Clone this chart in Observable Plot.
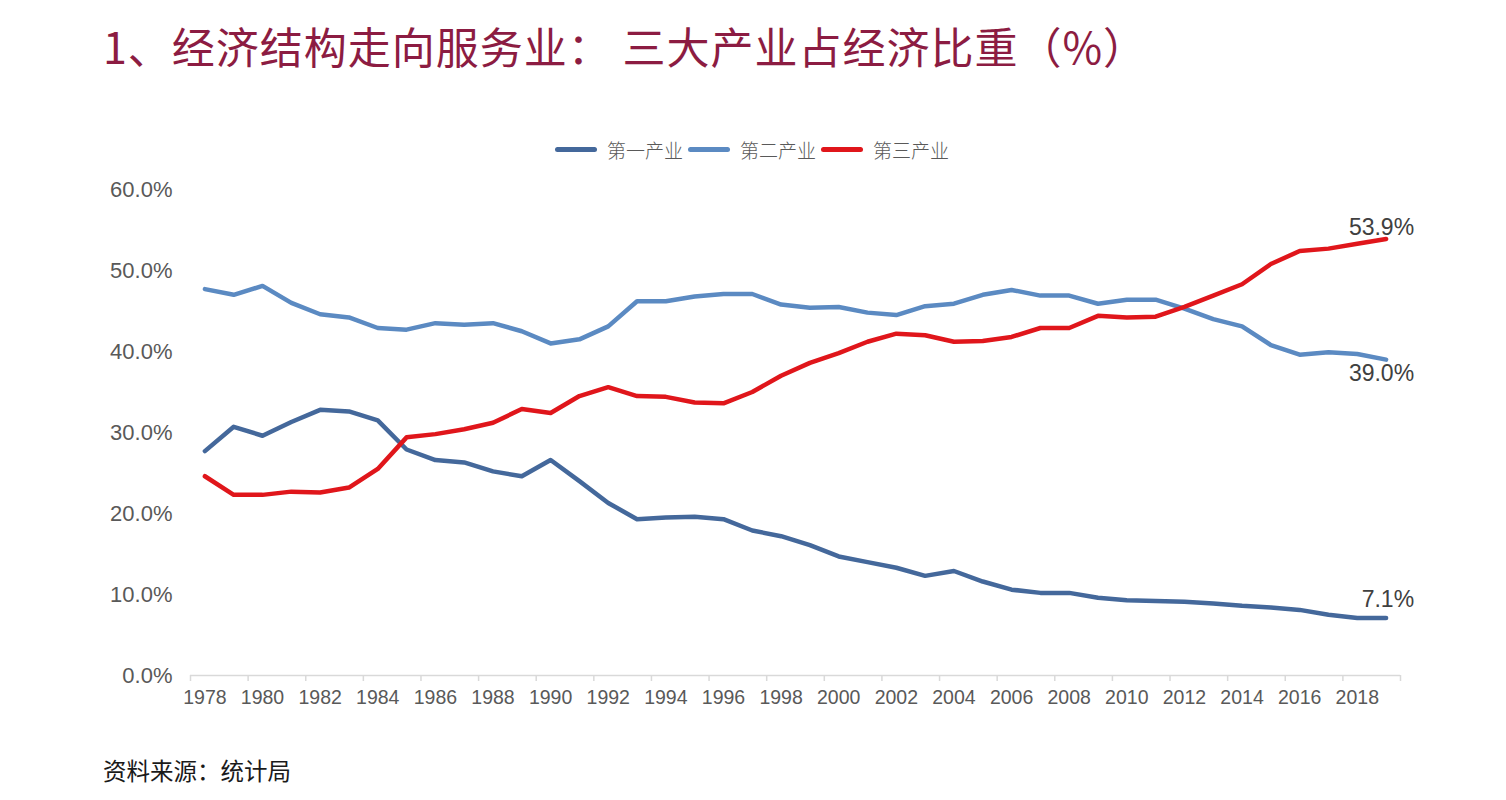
<!DOCTYPE html>
<html>
<head>
<meta charset="utf-8">
<script src="https://cdn.jsdelivr.net/npm/d3@7"></script>
<script src="https://cdn.jsdelivr.net/npm/@observablehq/plot@0.6"></script>
<style>
  html, body { margin: 0; padding: 0; background: #fff; }
  body { width: 1506px; height: 800px; position: relative; overflow: hidden; font-family: "Liberation Sans", "Noto Sans CJK SC", sans-serif; }
  #title { position: absolute; left: 103px; top: 14px; font-family: "Noto Sans CJK SC", sans-serif; font-size: 43px; color: #8C1C42; white-space: nowrap; letter-spacing: 1px; }
  #legend { position: absolute; left: 555px; top: 136px; display: flex; align-items: center; font-family: "Noto Sans CJK SC", sans-serif; font-size: 19px; color: #595959; font-weight: 300; }
  #legend .item { display: flex; align-items: center; margin-right: 5px; }
  #legend .sw { width: 42px; height: 5px; border-radius: 3px; margin-right: 10px; }
  #chart { position: absolute; left: 0; top: 170px; }
  #source { position: absolute; left: 103px; top: 753px; font-family: "Noto Sans CJK SC", sans-serif; font-size: 23.5px; color: #1a1a1a; }
</style>
</head>
<body>
<div id="title">1、经济结构走向服务业： 三大产业占经济比重（%）</div>
<div id="legend"></div>
<div id="chart"></div>
<div id="source">资料来源：统计局</div>
<script>
const years = d3.range(1978, 2020);
const seriesNames = ["第一产业", "第二产业", "第三产业"];
const seriesColors = ["#44689B", "#5B8AC2", "#E0161B"];
const primary = [27.7,30.7,29.6,31.3,32.8,32.6,31.5,27.9,26.6,26.3,25.2,24.6,26.6,24.0,21.3,19.3,19.5,19.6,19.3,17.9,17.2,16.1,14.7,14.0,13.3,12.3,12.9,11.6,10.6,10.2,10.2,9.6,9.3,9.2,9.1,8.9,8.6,8.4,8.1,7.5,7.1,7.1];
const secondary = [47.7,47.0,48.1,46.0,44.6,44.2,42.9,42.7,43.5,43.3,43.5,42.5,41.0,41.5,43.1,46.2,46.2,46.8,47.1,47.1,45.8,45.4,45.5,44.8,44.5,45.6,45.9,47.0,47.6,46.9,46.9,45.9,46.4,46.4,45.3,44.0,43.1,40.8,39.6,39.9,39.7,39.0];
const tertiary = [24.6,22.3,22.3,22.7,22.6,23.2,25.5,29.4,29.8,30.4,31.2,32.9,32.4,34.5,35.6,34.5,34.4,33.7,33.6,35.0,37.0,38.6,39.8,41.2,42.2,42.0,41.2,41.3,41.8,42.9,42.9,44.4,44.2,44.3,45.5,46.9,48.3,50.8,52.4,52.7,53.3,53.9];
const yTicks = [0, 10, 20, 30, 40, 50, 60];
const xLabelYears = d3.range(1978, 2020, 2);
const xTickBounds = d3.range(1977.5, 2020, 2);
const endLabelTer = [{year: 2019, value: 53.9, text: "53.9%"}];
const endLabelSec = [{year: 2019, value: 39.0, text: "39.0%"}];
const endLabelPri = [{year: 2019, value: 7.1, text: "7.1%"}];

const allSeries = [primary, secondary, tertiary];
const rows = [];
seriesNames.forEach((name, i) => {
  years.forEach((yr, j) => rows.push({series: name, year: yr, value: allSeries[i][j]}));
});

// legend
const legend = document.getElementById("legend");
seriesNames.forEach((n, i) => {
  const it = document.createElement("div");
  it.className = "item";
  it.innerHTML = `<span class="sw" style="background:${seriesColors[i]}"></span><span>${n}</span>`;
  legend.appendChild(it);
});

const labelOpts = {x: "year", y: "value", text: "text", textAnchor: "end", dx: 28, fontSize: 23, fill: "#404040"};

const chart = Plot.plot({
  width: 1506,
  height: 550,
  marginLeft: 190,
  marginRight: 106,
  marginTop: 19,
  marginBottom: 45,
  style: {fontFamily: "'Liberation Sans', sans-serif", background: "transparent", overflow: "visible"},
  x: {domain: [1977.5, 2019.5]},
  y: {domain: [0, 60]},
  color: {domain: seriesNames, range: seriesColors},
  marks: [
    Plot.axisY({ticks: yTicks, tickSize: 0, tickPadding: 18, tickFormat: d => d.toFixed(1) + "%", fontSize: 22, fill: "#595959", label: null}),
    Plot.ruleY([0], {stroke: "#d9d9d9", strokeWidth: 1.5}),
    Plot.axisX({ticks: xTickBounds, tickSize: 6, tickFormat: () => "", stroke: "#d9d9d9", strokeWidth: 1.5, label: null, strokeOpacity: 1}),
    Plot.axisX({ticks: xLabelYears, tickSize: 0, tickPadding: 15, tickFormat: d => String(d), fontSize: 19.5, fill: "#595959", label: null}),
    Plot.line(rows, {x: "year", y: "value", z: "series", stroke: "series", strokeWidth: 4.5, strokeLinejoin: "round", strokeLinecap: "round"}),
    Plot.text(endLabelTer, {...labelOpts, dy: -11}),
    Plot.text(endLabelSec, {...labelOpts, dy: 14}),
    Plot.text(endLabelPri, {...labelOpts, dy: -18})
  ]
});
document.getElementById("chart").appendChild(chart);
</script>
</body>
</html>
